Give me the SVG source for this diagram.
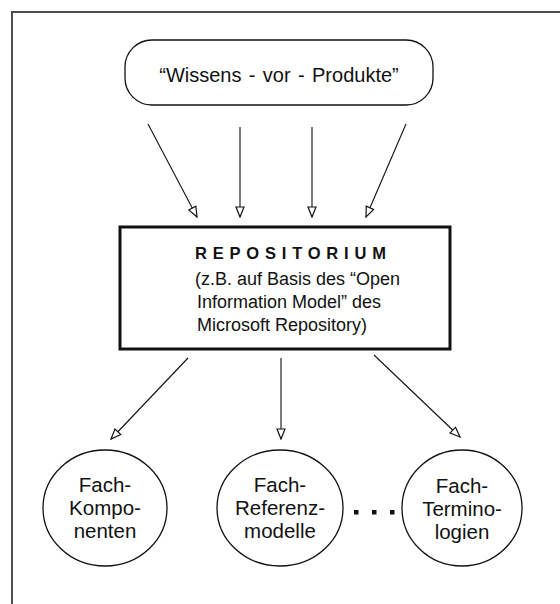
<svg xmlns="http://www.w3.org/2000/svg" width="560" height="604" viewBox="0 0 560 604">
  <defs>
    <marker id="open-arrow" viewBox="0 0 12 10" refX="11" refY="5" markerWidth="12" markerHeight="10" markerUnits="userSpaceOnUse" orient="auto">
      <path d="M1,1 L11,5 L1,9 Z" fill="#fff" stroke="#111" stroke-width="1.2" stroke-linejoin="miter"/>
    </marker>
    <style>
      text { font-family: "Liberation Sans", Arial, sans-serif; fill: #111; }
      .frame { fill: none; stroke: #4d4d4d; stroke-width: 2; }
      .conn { fill: none; stroke: #111; stroke-width: 1.1; marker-end: url(#open-arrow); }
      .oval { fill: #fff; stroke: #111; stroke-width: 1.3; }
      .label { font-size: 18px; }
      .big { font-size: 20.5px; text-anchor: middle; }
    </style>
  </defs>

  <rect width="560" height="604" fill="#fff"/>

  <!-- page frame (top and left edges only) -->
  <path class="frame" d="M12,604 V12 H560"/>

  <!-- source: knowledge pre-products -->
  <g id="wissens-vor-produkte">
    <rect x="125" y="40" width="308" height="65" rx="27" ry="27" class="oval"/>
    <text x="279" y="82" font-size="20" word-spacing="1.8" text-anchor="middle">“Wissens - vor - Produkte”</text>
  </g>

  <!-- central repository -->
  <g id="repositorium">
    <rect x="120" y="227" width="330" height="122" fill="#fff" stroke="#111" stroke-width="3"/>
    <text x="195" y="259" font-size="16.5" font-weight="bold" letter-spacing="5.8">REPOSITORIUM</text>
    <text x="195" y="285" class="label">(z.B. auf Basis des “Open</text>
    <text x="197" y="308" class="label">Information Model” des</text>
    <text x="197" y="331" class="label">Microsoft Repository)</text>
  </g>

  <!-- target domains -->
  <g id="fach-komponenten">
    <ellipse cx="105" cy="508" rx="62" ry="58" class="oval"/>
    <text x="105" y="492" class="big">Fach-</text>
    <text x="105" y="515" class="big">Kompo-</text>
    <text x="105" y="538" class="big">nenten</text>
  </g>

  <g id="fach-referenzmodelle">
    <ellipse cx="280" cy="508" rx="63" ry="58" class="oval"/>
    <text x="280" y="492" class="big">Fach-</text>
    <text x="280" y="515" class="big">Referenz-</text>
    <text x="280" y="538" class="big">modelle</text>
  </g>

  <g id="fach-terminologien">
    <ellipse cx="462" cy="508" rx="60" ry="58" class="oval"/>
    <text x="462" y="493" class="big">Fach-</text>
    <text x="462" y="516" class="big">Termino-</text>
    <text x="462" y="539" class="big">logien</text>
  </g>

  <!-- ellipsis between the domains -->
  <g id="ellipsis" fill="#111">
    <rect x="354" y="510" width="4.5" height="4.5"/>
    <rect x="372" y="510" width="4.5" height="4.5"/>
    <rect x="390" y="510" width="4.5" height="4.5"/>
  </g>

  <g id="connectors">
    <line class="conn" x1="148" y1="124" x2="197" y2="217"/>
    <line class="conn" x1="240" y1="127" x2="240" y2="217"/>
    <line class="conn" x1="312" y1="127" x2="312" y2="217"/>
    <line class="conn" x1="406" y1="124" x2="366" y2="217"/>
    <line class="conn" x1="188" y1="358" x2="111" y2="439"/>
    <line class="conn" x1="281" y1="358" x2="281" y2="439"/>
    <line class="conn" x1="374" y1="355" x2="460" y2="437"/>
  </g>
</svg>
